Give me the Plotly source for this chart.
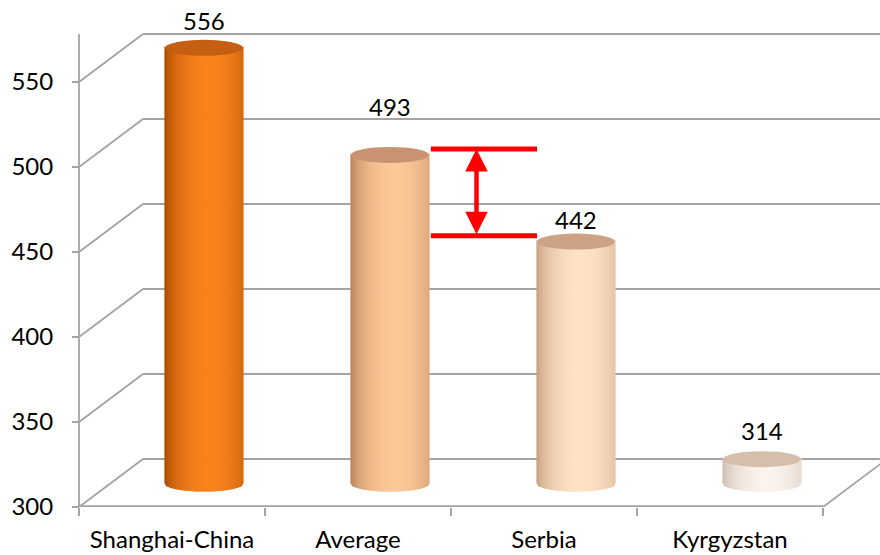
import numpy as np
import plotly.graph_objects as go

# ---------------- data ----------------
categories = ["Shanghai-China", "Average", "Serbia", "Kyrgyzstan"]
scores = [556, 493, 442, 314]
y_ticks = [300, 350, 400, 450, 500, 550]

# ---------------- styles ----------------
side_center = ["#F8831C", "#FDC898", "#FEE2C6", "#FAF3EE"]
side_edge = ["#A84700", "#B57F58", "#C29C7E", "#CDBAAC"]
top_fill = ["#C45E10", "#C99270", "#CDA386", "#D6BEAD"]
label_lift = [27, 48, 22, 29]  # px above the top ellipse centre
FONT = "Lato, 'Open Sans', sans-serif"
FS = 24
GRID = "#A3A3A3"

W, H = 880, 555
ML, MB = 75, 48
PX_X = 186.0          # pixels per category
PX_Y = 1.7            # pixels per score unit
X0 = -0.5 - 4 / PX_X
X1 = X0 + (W - ML) / PX_X
Y0 = 300.0
Y1 = Y0 + (H - MB) / PX_Y
DX = 64 / PX_X        # 3-D depth offset
DY = 48 / PX_Y
R = 39 / PX_X         # cylinder radius
B = 8 / PX_Y          # ellipse half height
BASE = y_ticks[0]
n = len(categories)


def hex2rgb(h):
    h = h.lstrip("#")
    return np.array([int(h[i:i + 2], 16) for i in (0, 2, 4)], dtype=float)


def mix(c1, c2, w):
    c = hex2rgb(c1) * (1 - w) + hex2rgb(c2) * w
    return "rgb(%d,%d,%d)" % tuple(np.clip(c, 0, 255).round())


shapes = []


def line(x0, y0, x1, y1, color=GRID, width=1.8):
    shapes.append(dict(type="line", xref="x", yref="y", x0=x0, y0=y0, x1=x1, y1=y1,
                       line=dict(color=color, width=width), layer="above"))


# 3-D frame: side wall diagonals and back wall gridlines
left = -0.5
right = n - 0.5
for v in y_ticks:
    line(left, v, left + DX, v + DY)
    line(left + DX, v + DY, X1 + 0.1, v + DY)
line(left, BASE, left, y_ticks[-1] + DY)            # front vertical axis
line(left, BASE, right, BASE, width=3.6)            # floor front edge
line(right, BASE, right + DX, BASE + DY)            # floor right edge

# cylinders
NS = 60
us = np.linspace(-1, 1, NS + 1)
annotations = []
for i, v in enumerate(scores):
    xc = i + DX / 2
    yb = BASE + DY / 2
    yt = v + DY / 2
    for k in range(NS):
        u0, u1 = us[k], us[k + 1]
        s0, s1 = np.sqrt(max(0, 1 - u0 ** 2)), np.sqrt(max(0, 1 - u1 ** 2))
        um = (u0 + u1) / 2
        w = max(0.0, 1 - ((um - 0.15) / 1.15) ** 2) ** 0.7
        col = mix(side_edge[i], side_center[i], w)
        path = (f"M {xc + u0 * R},{yb - B * s0} L {xc + u1 * R},{yb - B * s1} "
                f"L {xc + u1 * R},{yt - B * s1} L {xc + u0 * R},{yt - B * s0} Z")
        shapes.append(dict(type="path", xref="x", yref="y", path=path,
                           fillcolor=col, line=dict(color=col, width=1.2)))
    shapes.append(dict(type="circle", xref="x", yref="y",
                       x0=xc - R, x1=xc + R, y0=yt - B, y1=yt + B,
                       fillcolor=top_fill[i], line=dict(width=0)))
    annotations.append(dict(x=xc, y=yt, xref="x", yref="y", text=str(v),
                            showarrow=False, yshift=label_lift[i],
                            font=dict(family=FONT, size=FS, color="#000000")))

# red difference marker between Average and Serbia
ia, ib = 1, 2
xa_r = ia + DX / 2 + R + 0.01
xb_l = ib + DX / 2 - R
y_hi = scores[ia] + DY / 2 + 3.5
y_lo = scores[ib] + DY / 2 + 3.5
line(xa_r, y_hi, xb_l, y_hi, color="#FF0000", width=5)
line(xa_r, y_lo, xb_l, y_lo, color="#FF0000", width=5)
xm = xa_r + 0.43 * (xb_l - xa_r)
annotations.append(dict(x=xm, y=y_hi, ax=xm, ay=y_lo, xref="x", yref="y",
                        axref="x", ayref="y", text="", showarrow=True,
                        arrowhead=2, startarrowhead=2, arrowside="end+start",
                        arrowsize=1, startarrowsize=1, arrowwidth=4.5,
                        arrowcolor="#FF0000", standoff=0, startstandoff=0))

fig = go.Figure()
fig.add_trace(go.Scatter(x=[X0, X1], y=[Y0, Y1], mode="markers",
                         marker=dict(opacity=0), hoverinfo="skip", showlegend=False))

fig.update_layout(
    width=W, height=H,
    margin=dict(l=ML, r=0, t=0, b=MB, pad=0),
    paper_bgcolor="white", plot_bgcolor="white",
    showlegend=False,
    shapes=shapes,
    annotations=annotations,
    xaxis=dict(range=[X0, X1], tickmode="array", tickvals=list(range(n)),
               ticktext=categories, ticks="", showgrid=False, zeroline=False,
               showline=False, ticklabelstandoff=16,
               tickfont=dict(family=FONT, size=FS, color="#000000"),
               minor=dict(tickmode="array", tickvals=[j - 0.5 for j in range(n + 1)],
                          ticks="outside", ticklen=8, tickcolor=GRID, tickwidth=1.8,
                          showgrid=False)),
    yaxis=dict(range=[Y0, Y1], tickmode="array", tickvals=y_ticks,
               ticks="outside", ticklen=7, tickcolor=GRID, tickwidth=1.8,
               anchor="free", position=4 / (W - ML),
               showgrid=False, zeroline=False, showline=False,
               ticklabelstandoff=14,
               tickfont=dict(family=FONT, size=FS, color="#000000")),
)

fig.write_html("out.html")
